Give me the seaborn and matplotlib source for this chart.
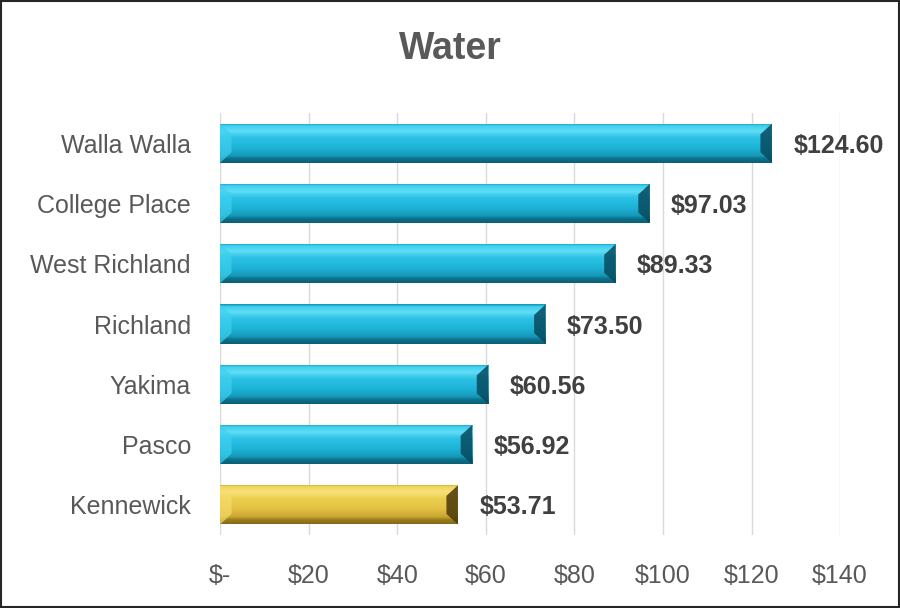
import numpy as np
import pandas as pd
import matplotlib
matplotlib.use("Agg")
import matplotlib.pyplot as plt
import seaborn as sns
from matplotlib.colors import to_rgb
from matplotlib.patches import Polygon, Rectangle

cities = ["Walla Walla", "College Place", "West Richland", "Richland", "Yakima", "Pasco", "Kennewick"]
values = [124.60, 97.03, 89.33, 73.50, 60.56, 56.92, 53.71]
highlight = "Kennewick"
tick_values = [0, 20, 40, 60, 80, 100, 120, 140]
tick_labels = ["$-", "$20", "$40", "$60", "$80", "$100", "$120", "$140"]

sns.set_theme(style="white")
plt.rcParams["font.family"] = ["Liberation Sans", "DejaVu Sans"]

df = pd.DataFrame({"city": cities, "value": values})

blue = "#1db3d6"
gold = "#e6c53f"
bar_colors = [gold if c == highlight else blue for c in cities]

fig = plt.figure(figsize=(9, 6.08), dpi=100)
ax = fig.add_axes([0.2445, 0.12, 0.689, 0.694])

sns.barplot(data=df, x="value", y="city", hue="city", palette=bar_colors,
            order=cities, hue_order=cities, dodge=False, width=0.65, legend=False, ax=ax, zorder=3,
            edgecolor="none", linewidth=0)

ax.set_xlim(0, 140)
ylim = ax.get_ylim()
ax.set_autoscale_on(False)


def grad_rgb(stops, n=80):
    pos = np.array([s[0] for s in stops])
    cols = np.array([to_rgb(s[1]) for s in stops])
    t = np.linspace(0, 1, n)
    out = np.stack([np.interp(t, pos, cols[:, k]) for k in range(3)], axis=1)
    return out.reshape(n, 1, 3)


blue_stops = [(0.0, "#1592b2"), (0.06, "#3ccfee"), (0.2, "#62ddf6"), (0.36, "#2cc2e5"),
              (0.62, "#1db3d6"), (0.82, "#1598b9"), (0.9, "#0c6f89"), (1.0, "#0a5f76")]
gold_stops = [(0.0, "#c2a030"), (0.06, "#f0d65a"), (0.2, "#f7e27c"), (0.36, "#ecce4d"),
              (0.62, "#e3c142"), (0.82, "#c9a531"), (0.9, "#9b7c1c"), (1.0, "#85691a")]
blue_img = grad_rgb(blue_stops)
gold_img = grad_rgb(gold_stops)

for p in list(ax.patches):
    x0, y0 = p.get_x(), p.get_y()
    w, h = p.get_width(), p.get_height()
    if w <= 0:
        continue
    idx = int(round(y0 + h / 2))
    is_gold = cities[idx] == highlight
    img = gold_img if is_gold else blue_img
    top, bot = min(y0, y0 + h), max(y0, y0 + h)
    im = ax.imshow(img, aspect="auto", extent=(x0, x0 + w, bot, top),
                   origin="upper", zorder=4, interpolation="bilinear")
    im.set_clip_path(p)
    bev_x = 2.6
    bev_y = abs(h) * 0.27
    left_col = "#f5dc6c" if is_gold else "#3fd0f0"
    right_col = "#4a3808" if is_gold else "#064a5e"
    ax.add_patch(Polygon([(x0, top), (x0 + bev_x, top + bev_y), (x0 + bev_x, bot - bev_y), (x0, bot)],
                         closed=True, facecolor=left_col, edgecolor="none", alpha=0.7, zorder=5))
    ax.add_patch(Polygon([(x0 + w, top), (x0 + w - bev_x, top + bev_y), (x0 + w - bev_x, bot - bev_y), (x0 + w, bot)],
                         closed=True, facecolor=right_col, edgecolor="none", alpha=0.85, zorder=5))

ax.set_xlim(0, 140)
ax.set_ylim(ylim)

for i, v in enumerate(values):
    ax.text(v + 4.8, i, f"${v:.2f}", va="center_baseline", ha="left", fontsize=18, fontweight="bold",
            color="#404040", zorder=6)

ax.set_xticks(tick_values)
ax.set_xticklabels(tick_labels)
ax.set_xlabel("")
ax.set_ylabel("")
ax.grid(axis="x", color="#d9d9d9", linewidth=1.0, zorder=0)
ax.grid(axis="y", visible=False)
ax.set_axisbelow(True)
for s in ax.spines.values():
    s.set_visible(False)
ax.tick_params(axis="x", length=0, pad=21, labelsize=18, labelcolor="#595959")
ax.tick_params(axis="y", length=0, pad=21, labelsize=18, labelcolor="#595959")
fig.text(0.5, 1 - 49 / 608, "Water", fontsize=27, fontweight="bold", color="#595959",
         ha="center", va="center")

fig.patches.append(Rectangle((0.001, 0.0015), 0.998, 0.997, transform=fig.transFigure,
                             fill=False, edgecolor="#262626", linewidth=1.5))
fig.savefig("out.png", dpi=100)
